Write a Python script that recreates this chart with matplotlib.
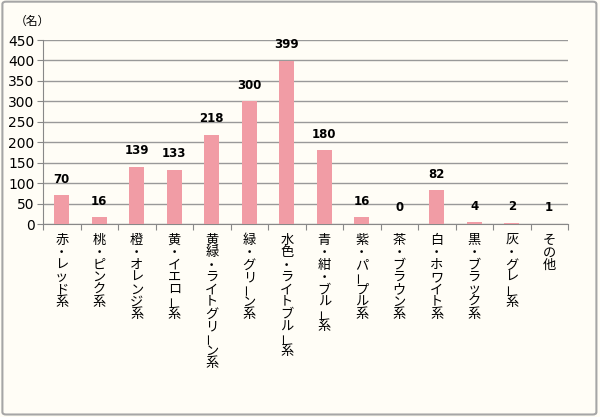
import matplotlib
matplotlib.use("Agg")
import matplotlib.pyplot as plt
from matplotlib.patches import FancyBboxPatch

plt.rcParams['font.family'] = ['Noto Sans CJK JP', 'DejaVu Sans']

# data
categories = ["赤・レッド系", "桃・ピンク系", "橙・オレンジ系", "黄・イエロー系",
              "黄緑・ライトグリーン系", "緑・グリーン系", "水色・ライトブルー系",
              "青・紺・ブルー系", "紫・パープル系", "茶・ブラウン系", "白・ホワイト系",
              "黒・ブラック系", "灰・グレー系", "その他"]
counts = [70, 16, 139, 133, 218, 300, 399, 180, 16, 0, 82, 4, 2, 1]
y_ticks = list(range(0, 451, 50))

bg = '#fffdf6'
bar_color = '#f19ca5'

fig = plt.figure(figsize=(6, 4.17), dpi=100, facecolor=bg)
# outer frame
fig.patches.append(FancyBboxPatch((0.004, 0.006), 0.99, 0.99, boxstyle='round,pad=0,rounding_size=0.006',
                                  transform=fig.transFigure, facecolor=bg, edgecolor='#a6a6a6',
                                  linewidth=1.5, zorder=-1))

ax = fig.add_axes([43 / 600, 1 - 224 / 417, (568 - 43) / 600, (224 - 40) / 417])
ax.set_facecolor(bg)

x = range(len(categories))
ax.bar(x, counts, width=0.4, color=bar_color, zorder=3)

for i, v in enumerate(counts):
    ax.annotate(str(v), (i, v), xytext=(0, 7), textcoords='offset points',
                ha='center', va='bottom', fontsize=8.5, fontweight='bold', family='DejaVu Sans')

ax.set_xlim(-0.5, len(categories) - 0.5)
ax.set_ylim(0, 450)
ax.set_yticks(y_ticks)
ax.tick_params(axis='y', labelsize=10, length=4, color='#888888', pad=2)
for lab in ax.get_yticklabels():
    lab.set_family('DejaVu Sans')
ax.yaxis.grid(True, color='#999999', linewidth=1, zorder=0)

# category boundary ticks
ax.set_xticks([i - 0.5 for i in range(len(categories) + 1)])
ax.set_xticklabels([])
ax.tick_params(axis='x', length=4, color='#888888')

for s in ['top', 'right']:
    ax.spines[s].set_visible(False)
ax.spines['left'].set_color('#888888')
ax.spines['bottom'].set_color('#888888')

# vertical (stacked) category labels, long vowel mark turned upright
pitch = 12.3
for i, name in enumerate(categories):
    for k, ch in enumerate(name):
        if ch == 'ー':
            rot, dx, dy, fs = 90, -1.8, 0.5, 8.5
        else:
            rot, dx, dy, fs = 0, 0, 0, 9.5
        ax.annotate(ch, (i, 0), xycoords=('data', 'axes fraction'),
                    xytext=(dx, -12 - k * pitch * 0.72 + dy), textcoords='offset points',
                    ha='center', va='center', fontsize=fs, rotation=rot,
                    rotation_mode='anchor')

fig.text(15 / 600, 1 - 21 / 417, '（名）', fontsize=8.5, ha='left', va='center')

fig.savefig('out.png', dpi=100, facecolor=bg)
